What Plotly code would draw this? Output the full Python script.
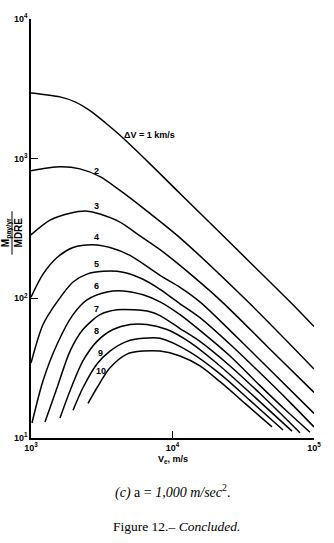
import math
import plotly.graph_objects as go

# Exhaust velocity Ve (m/s) and payload per year per MDRE, one curve per delta-V (km/s)
dv_labels = ["1", "2", "3", "4", "5", "6", "7", "8", "9", "10"]

ve_1 = [1000, 1603, 2046, 2612, 3334, 4256, 6934, 11300, 27650, 67700, 100000]
m_1 = [2958, 2770, 2553, 2207, 1815, 1470, 918, 563, 231, 94.4, 62.8]

ve_2 = [1000, 1603, 2218, 3076, 4256, 6603, 11300, 34170, 100000]
m_2 = [818, 874, 845, 743, 592, 421, 271, 94.4, 31.2]

ve_3 = [1000, 1362, 1888, 2488, 3076, 4256, 5893, 8165, 11300, 22390, 47300, 100000]
m_3 = [285, 363, 407, 421, 401, 351, 280, 223, 172, 94.4, 44.7, 21.2]

ve_4 = [1000, 1216, 1528, 1982, 2743, 3616, 5008, 8165, 11300, 15630, 39560, 100000]
m_4 = [102, 149, 196, 231, 242, 231, 203, 146, 120, 94.4, 38.0, 15.0]

ve_5 = [1000, 1216, 1528, 1982, 2488, 3229, 4470, 6190, 8165, 11300, 15630, 25500, 41530, 67700, 100000]
m_5 = [34.4, 64.9, 94.4, 131, 149, 156, 154, 137, 116, 91.4, 72.7, 46.9, 29.3, 18.0, 12.0]

ve_6 = [1016, 1216, 1528, 1982, 2488, 3446, 4470, 6190, 8165, 11300, 15630, 25500, 41530, 62400, 93700]
m_6 = [12.8, 25.7, 46.9, 76.4, 97.5, 111, 113, 106, 94.4, 76.4, 58.9, 38.6, 23.7, 16.0, 11.0]

ve_7 = [1256, 1528, 1888, 2328, 3076, 4054, 5259, 6934, 8165, 11300, 15630, 25500, 41530, 79600]
m_7 = [13.0, 22.9, 41.9, 59.8, 76.4, 82.8, 82.8, 80.2, 75.2, 60.8, 49.2, 32.8, 20.8, 10.9]

ve_8 = [1603, 1888, 2328, 2926, 3798, 5008, 6603, 9148, 13300, 21670, 35290, 69900]
m_8 = [13.9, 21.8, 35.6, 49.2, 59.8, 64.9, 64.9, 59.8, 48.4, 32.8, 21.1, 11.2]

ve_9 = [1982, 2328, 2926, 3616, 4768, 6190, 8165, 13300, 21670, 35290, 60400]
m_9 = [15.8, 22.9, 33.9, 41.9, 49.2, 51.7, 51.7, 41.2, 28.8, 18.6, 11.4]

ve_10 = [2529, 2926, 3616, 4768, 6190, 8165, 11300, 15630, 21670, 32540, 50500]
m_10 = [17.7, 22.9, 31.8, 39.9, 41.9, 41.9, 38.6, 32.8, 25.3, 17.7, 12.0]

curves_ve = [ve_1, ve_2, ve_3, ve_4, ve_5, ve_6, ve_7, ve_8, ve_9, ve_10]
curves_m = [m_1, m_2, m_3, m_4, m_5, m_6, m_7, m_8, m_9, m_10]

# Where each curve's label sits (Ve, M)
label_ve = [4400, 2926, 2900, 2926, 2926, 2900, 2926, 2926, 3076, 3120]
label_m = [1480, 820, 455, 275, 177, 122, 84, 58, 40.5, 30.2]

x_tick_vals = [1000, 10000, 100000]
x_tick_text = ["10<sup>3</sup>", "10<sup>4</sup>", "10<sup>5</sup>"]
y_tick_vals = [10, 100, 1000, 10000]
y_tick_text = ["10<sup>1</sup>", "10<sup>2</sup>", "10<sup>3</sup>", "10<sup>4</sup>"]

W, H = 334, 543
L, R, T, B = 31, 20, 13, 105
pw, ph = W - L - R, H - T - B


def px(x):
    return (x - L) / pw


def py(y):
    return (H - B - y) / ph


fig = go.Figure()
for ve, m in zip(curves_ve, curves_m):
    fig.add_trace(go.Scatter(
        x=ve, y=m, mode="lines",
        line=dict(color="black", width=1.5, shape="spline", smoothing=0.8),
        showlegend=False, hoverinfo="skip",
    ))

label_font = dict(family="Liberation Sans, Arial, sans-serif", size=9, color="black")
for i, (lx, ly) in enumerate(zip(label_ve, label_m)):
    txt = "<b>\u0394V = 1 km/s</b>" if i == 0 else "<b>%s</b>" % dv_labels[i]
    # annotation positions on log axes are given as log10 values
    fig.add_annotation(
        x=math.log10(lx), y=math.log10(ly), xref="x", yref="y",
        text=txt, showarrow=False,
        xanchor="left" if i == 0 else "center", yanchor="middle",
        font=label_font,
    )

# Axis titles and captions
fig.add_annotation(
    x=0.5, y=py(460), xref="paper", yref="paper",
    text="<b>V<sub>e</sub>, m/s</b>", showarrow=False,
    xanchor="center", yanchor="middle", font=label_font,
)
fig.add_annotation(
    x=px(11.5), y=py(230), xref="paper", yref="paper",
    text="<b>M<sub>pay/yr</sub></b><br><b>MDRE</b>", showarrow=False,
    textangle=-90, xanchor="center", yanchor="middle",
    font=dict(family="Liberation Sans, Arial, sans-serif", size=10, color="black"),
)
fig.add_shape(
    type="line", xref="paper", yref="paper",
    x0=px(12), x1=px(12), y0=py(208), y1=py(252),
    line=dict(color="black", width=1),
)
fig.add_annotation(
    x=px(172), y=py(492), xref="paper", yref="paper",
    text="<i>(c)</i> a = <i>1,000 m/sec</i><sup>2</sup>.", showarrow=False,
    xanchor="center", yanchor="middle",
    font=dict(family="Liberation Serif, Times New Roman, serif", size=14, color="black"),
)
fig.add_annotation(
    x=px(177), y=py(528), xref="paper", yref="paper",
    text="Figure 12.\u2013 <i>Concluded.</i>", showarrow=False,
    xanchor="center", yanchor="middle",
    font=dict(family="Liberation Serif, Times New Roman, serif", size=13.5, color="black"),
)

axis_font = dict(family="Liberation Sans, Arial, sans-serif", size=9, color="black", weight="bold")
fig.update_xaxes(
    type="log", range=[3, 5], showgrid=False, zeroline=False,
    showline=True, linecolor="black", linewidth=1.5,
    ticks="inside", ticklen=7, tickwidth=1.2, tickcolor="black",
    tickvals=x_tick_vals, ticktext=x_tick_text, tickfont=axis_font,
)
fig.update_yaxes(
    type="log", range=[1, 4], showgrid=False, zeroline=False,
    showline=True, linecolor="black", linewidth=1.5,
    ticks="inside", ticklen=7, tickwidth=1.2, tickcolor="black",
    tickvals=y_tick_vals, ticktext=y_tick_text, tickfont=axis_font,
)
fig.update_layout(
    width=W, height=H,
    margin=dict(l=L, r=R, t=T, b=B),
    paper_bgcolor="white", plot_bgcolor="white",
)

fig.write_html("out.html")
